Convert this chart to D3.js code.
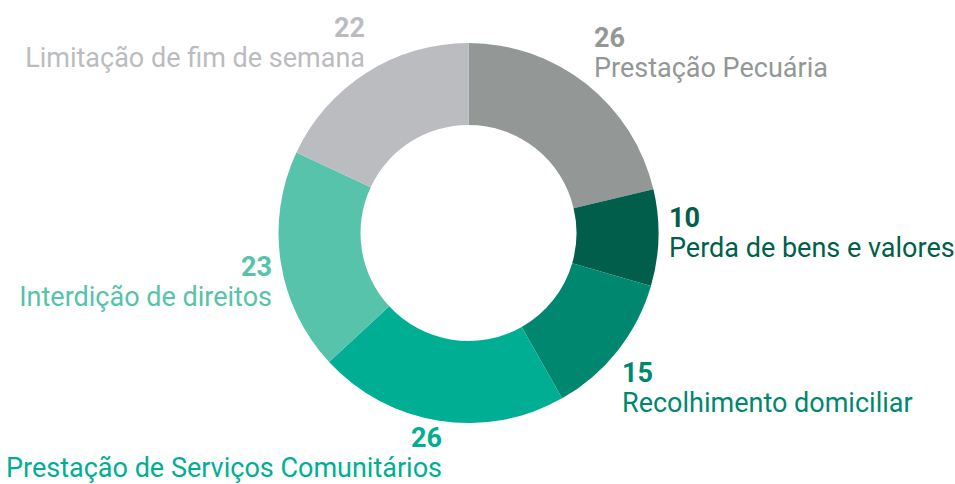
<!DOCTYPE html>
<html>
<head>
<meta charset="utf-8">
<script src="https://cdn.jsdelivr.net/npm/d3@7"></script>
<style>
  html, body { margin: 0; padding: 0; background: #fff; }
  svg { display: block; }
  text { font-family: Roboto, "Noto Sans", sans-serif; }
</style>
</head>
<body>
<svg id="chart" width="955" height="484"></svg>
<script>
// Data
const categories = [
  "Prestação Pecuária",
  "Perda de bens e valores",
  "Recolhimento domiciliar",
  "Prestação de Serviços Comunitários",
  "Interdição de direitos",
  "Limitação de fim de semana"
];
const values = [26, 10, 15, 26, 23, 22];
const colors = ["#939796", "#005e4b", "#00876f", "#00ae94", "#56c3aa", "#bbbcc0"];

// Layout (label anchors, not data)
const labelLayout = [
  { x: 594, y: 47, anchor: "start" },
  { x: 669, y: 227, anchor: "start" },
  { x: 622, y: 382, anchor: "start" },
  { x: 442, y: 447, anchor: "end" },
  { x: 272, y: 276, anchor: "end" },
  { x: 365, y: 37, anchor: "end" }
];

const svg = d3.select("#chart");
const cx = 468.5, cy = 233, outerR = 190, innerR = 108;

const pie = d3.pie().sort(null).value(d => d);
const arcs = pie(values);
const arc = d3.arc().innerRadius(innerR).outerRadius(outerR);

const g = svg.append("g").attr("transform", `translate(${cx},${cy})`);
g.selectAll("path")
  .data(arcs)
  .join("path")
  .attr("d", arc)
  .attr("fill", (d, i) => colors[i]);

const labels = svg.append("g");
arcs.forEach((d, i) => {
  const L = labelLayout[i];
  labels.append("text")
    .attr("x", L.x).attr("y", L.y)
    .attr("text-anchor", L.anchor)
    .attr("fill", colors[i])
    .attr("font-weight", 700)
    .style("font-size", "27px")
    .text(values[i]);
  labels.append("text")
    .attr("x", L.x).attr("y", L.y + 30)
    .attr("text-anchor", L.anchor)
    .attr("fill", colors[i])
    .attr("font-weight", 400)
    .style("font-size", "27px")
    .text(categories[i]);
});
</script>
</body>
</html>
